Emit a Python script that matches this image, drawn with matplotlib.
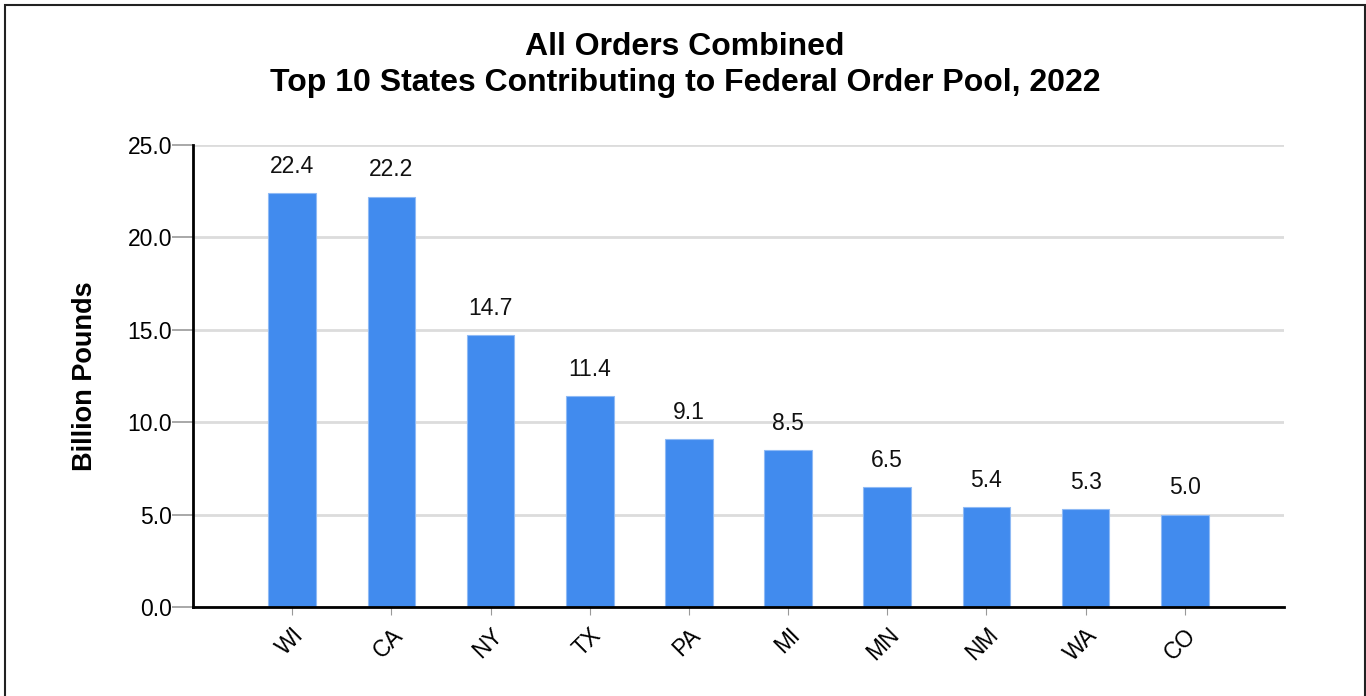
import matplotlib
matplotlib.use("Agg")
import matplotlib.pyplot as plt
from matplotlib.patches import Rectangle

states = ["WI", "CA", "NY", "TX", "PA", "MI", "MN", "NM", "WA", "CO"]
values = [22.4, 22.2, 14.7, 11.4, 9.1, 8.5, 6.5, 5.4, 5.3, 5.0]
yticks = [0.0, 5.0, 10.0, 15.0, 20.0, 25.0]

plt.rcParams['font.family'] = ['Liberation Sans', 'DejaVu Sans']

fig = plt.figure(figsize=(13.66, 6.96), dpi=100)
ax = fig.add_axes([193/1366, 1-607/696, (1284-193)/1366, (607-145)/696])

x = list(range(1, len(states) + 1))
bars = ax.bar(x, values, width=0.48, color="#418bee", edgecolor="#8fbaf5", linewidth=0.8, zorder=3)

for xi, v in zip(x, values):
    ax.annotate(f"{v:.1f}", (xi, v), xytext=(0, 11), textcoords="offset points",
                ha="center", va="bottom", fontsize=16.5, color="#111111")

ax.set_xlim(0, 11)
ax.set_ylim(0, 25)
ax.set_yticks(yticks)
ax.set_yticklabels([f"{t:.1f}" for t in yticks], fontsize=16.5)
ax.set_xticks(x)
ax.set_xticklabels(states, rotation=45, ha="right", va="top", rotation_mode="anchor", fontsize=16.5)
ax.tick_params(axis="x", length=6, color="#999999", pad=6)
ax.tick_params(axis="y", length=15, color="#999999", width=1.2, pad=0)

ax.grid(axis="y", color="#dcdcdc", linewidth=2, zorder=0)
for s in ["top", "right"]:
    ax.spines[s].set_visible(False)
ax.spines["left"].set_linewidth(2)
ax.spines["bottom"].set_linewidth(2)
ax.spines["left"].set_zorder(4)
ax.spines["bottom"].set_zorder(4)

ax.set_ylabel("Billion Pounds", fontsize=19.5, fontweight="bold", labelpad=21)

fig.text(685/1366, 1-65/696, "All Orders Combined\nTop 10 States Contributing to Federal Order Pool, 2022",
         ha="center", va="center", fontsize=23, fontweight="bold", linespacing=1.25)

fig.patches.append(Rectangle((5/1366, -0.05), 1360/1366, 1.05 - 5/696, transform=fig.transFigure,
                             fill=False, edgecolor="#222222", linewidth=1.5))

fig.savefig("out.png", dpi=100)
